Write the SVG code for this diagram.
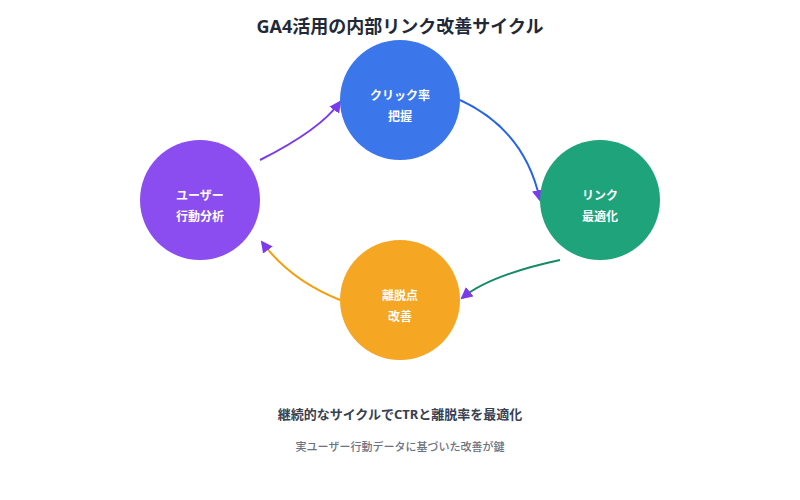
<svg xmlns="http://www.w3.org/2000/svg" width="800" height="500" viewBox="0 0 800 500">
<style>
text{font-family:"Noto Sans","Noto Sans CJK JP",sans-serif;}
.t{font-size:18px;font-weight:bold;fill:#1f2937;text-anchor:middle}
.n{font-size:12px;font-weight:bold;fill:#fff;text-anchor:middle}
.c{fill:none;stroke-width:2}
</style>
<defs><marker id="a" markerWidth="12" markerHeight="12" refX="10" refY="6" orient="auto" markerUnits="userSpaceOnUse"><path d="M0,0 L12,6 L0,12 z" fill="#7c3aed"/></marker></defs>
<rect width="800" height="500" fill="#fff"/>
<text class="t" x="400" y="33">GA4活用の内部リンク改善サイクル</text>
<g id="connectors">
<path class="c" stroke="#2563eb" d="M460,100 Q525,130 540,200" marker-end="url(#a)"/>
<path class="c" stroke="#148a66" d="M560,260 Q490,275 462,298" marker-end="url(#a)"/>
<path class="c" stroke="#f59e0b" d="M340,300 Q290,280 262,242" marker-end="url(#a)"/>
<path class="c" stroke="#7c3aed" d="M260,160 Q320,130 340,102" marker-end="url(#a)"/>
</g>
<g id="n1"><circle cx="400" cy="100" r="60" fill="#3b76ea"/><text class="n" x="400" y="100">クリック率</text><text class="n" x="400" y="121">把握</text></g>
<g id="n2"><circle cx="600" cy="200" r="60" fill="#1fa37a"/><text class="n" x="600" y="200">リンク</text><text class="n" x="600" y="221">最適化</text></g>
<g id="n3"><circle cx="400" cy="300" r="60" fill="#f5a623"/><text class="n" x="400" y="300">離脱点</text><text class="n" x="400" y="321">改善</text></g>
<g id="n4"><circle cx="200" cy="200" r="60" fill="#8b4cf0"/><text class="n" x="200" y="200">ユーザー</text><text class="n" x="200" y="221">行動分析</text></g>
<text x="400" y="419" text-anchor="middle" font-size="13" font-weight="bold" fill="#374151">継続的なサイクルでCTRと離脱率を最適化</text>
<text x="400" y="451" text-anchor="middle" font-size="11" font-weight="500" fill="#6b7280">実ユーザー行動データに基づいた改善が鍵</text>
</svg>
